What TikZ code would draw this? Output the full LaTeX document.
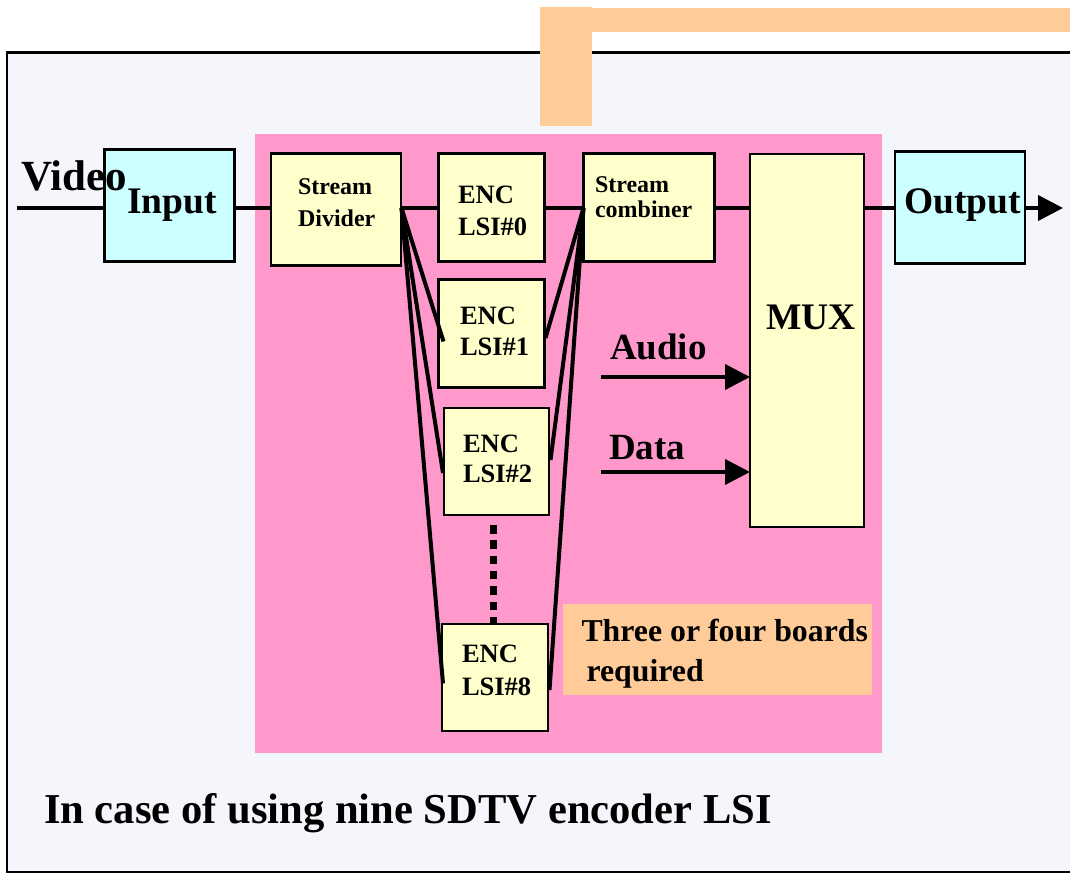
\documentclass[tikz,border=0pt]{standalone}
\usepackage{fontspec}
\setmainfont{Liberation Serif}
\usetikzlibrary{arrows.meta,calc}
\definecolor{framebg}{HTML}{F5F6FB}
\definecolor{pinkbg}{HTML}{FF99CC}
\definecolor{orangebg}{HTML}{FFCC99}
\definecolor{yellowbox}{HTML}{FFFFCC}
\definecolor{cyanbox}{HTML}{CCFFFF}
\newcommand{\twolines}[2]{\vtop{\hbox{#1}\hbox{#2}}}
\begin{document}
\begin{tikzpicture}[x=1pt,y=-1pt,
  blk/.style={draw=black, line width=2.8pt, inner sep=0pt, outer sep=0pt},
  yblk/.style={blk, fill=yellowbox},
  cblk/.style={blk, fill=cyanbox},
  wire/.style={line width=4pt, line cap=butt},
  arr/.style={wire, -{Triangle[length=25pt,width=25pt]}},
  txt/.style={anchor=base west, inner sep=0pt, outer sep=0pt, font=\bfseries},
]
\useasboundingbox (0,0) rectangle (1070,874);
% frame
\path[fill=framebg, draw=black, line width=2.5pt] (7,52.5) rectangle (1090,872);
% orange bars
\fill[orangebg] (540,7) rectangle (592,126);
\fill[orangebg] (540,8) rectangle (1075,32);
% pink board
\fill[pinkbg] (255,134) rectangle (882,752.5);
% note box
\node[fill=orangebg, inner sep=0pt, minimum width=309pt, minimum height=91pt] (note) at (717.25,649) {};

% boxes
\node[cblk, minimum width=130pt, minimum height=112pt] (inp) at (169.5,205.5) {};
\node[yblk, minimum width=130pt, minimum height=112pt] (div) at (336,209.5) {};
\node[yblk, minimum width=106pt, minimum height=108pt] (e0) at (491.5,207.5) {};
\node[yblk, minimum width=131pt, minimum height=108pt] (comb) at (649,207.5) {};
\node[yblk, minimum width=114pt, minimum height=373pt] (mux) at (807,340.5) {};
\node[cblk, minimum width=130pt, minimum height=112pt] (out) at (960,207.5) {};
\node[yblk, minimum width=106pt, minimum height=108pt] (e1) at (491.5,333.5) {};
\node[yblk, minimum width=105pt, minimum height=107pt] (e2) at (496.5,461.5) {};
\node[yblk, minimum width=106pt, minimum height=107pt] (e8) at (495,677.5) {};

% coordinates
\coordinate (vin) at (17,208);
\coordinate (vout) at (1063,208);
\coordinate (au) at (601,377);
\coordinate (da) at (601,472);
\coordinate (dtop) at (493.5,525);
\coordinate (dbot) at (493.5,624);
\coordinate (dsrc) at (401.5,208);
\coordinate (csrc) at (583.5,208);

% connectors
\draw[wire] (vin) -- (vin -| inp.west);
\draw[wire] (inp.east |- vin) -- (div.west |- vin);
\draw[wire] (dsrc) -- (e0.west |- vin);
\draw[wire] (e0.east |- vin) -- (csrc);
\draw[wire] (comb.east |- vin) -- (mux.west |- vin);
\draw[wire] (mux.east |- vin) -- (out.west |- vin);
\draw[arr] (out.east |- vin) -- (vout);
\draw[wire] (dsrc) -- ([xshift=5pt,yshift=-8pt]e1.west);
\draw[wire] (dsrc) -- ([xshift=-1pt,yshift=-11.5pt]e2.west);
\draw[wire] (dsrc) -- ([xshift=1pt,yshift=-6pt]e8.west);
\draw[wire] (csrc) -- ([xshift=1pt,yshift=-4.5pt]e1.east);
\draw[wire] (csrc) -- ([xshift=1.5pt,yshift=1.5pt]e2.east);
\draw[wire] (csrc) -- ([xshift=1.5pt,yshift=-12.5pt]e8.east);
\draw[line width=7pt, dash pattern=on 8.5pt off 6.8pt] (dtop) -- (dbot);
\draw[arr] (au) -- (au -| mux.west);
\draw[arr] (da) -- (da -| mux.west);

% texts
\node[txt, font=\bfseries\fontsize{43}{50}\selectfont] (tvideo) at (21,191) {Video};
\node[txt, font=\bfseries\fontsize{37.5}{44}\selectfont] (tinput) at (127,214) {Input};
\node[txt, font=\bfseries\fontsize{24}{31.7}\selectfont] (tdiv) at (298,195) {\twolines{Stream}{Divider}};
\node[txt, font=\bfseries\fontsize{26.5}{32}\selectfont] (te0) at (458,204) {\twolines{ENC}{LSI\#0}};
\node[txt, font=\bfseries\fontsize{26.5}{32}\selectfont] (te1) at (460,324) {\twolines{ENC}{LSI\#1}};
\node[txt, font=\bfseries\fontsize{26.5}{30.5}\selectfont] (te2) at (463,452) {\twolines{ENC}{LSI\#2}};
\node[txt, font=\bfseries\fontsize{26.5}{33}\selectfont] (te8) at (462,662) {\twolines{ENC}{LSI\#8}};
\node[txt, font=\bfseries\fontsize{24}{25}\selectfont] (tcomb) at (595,193) {\twolines{Stream}{combiner}};
\node[txt, font=\bfseries\fontsize{37.5}{44}\selectfont] (tmux) at (766,330) {MUX};
\node[txt, font=\bfseries\fontsize{37}{44}\selectfont] (taud) at (610,359) {Audio};
\node[txt, font=\bfseries\fontsize{37}{44}\selectfont] (tdata) at (609,459) {Data};
\node[txt, font=\bfseries\fontsize{37.5}{44}\selectfont] (tout) at (904,214) {Output};
\node[txt, font=\bfseries\fontsize{31.8}{40}\selectfont] (tnote) at (581.5,641) {\twolines{Three or four boards}{\hspace*{5pt}required}};
\node[txt, font=\bfseries\fontsize{42.6}{50}\selectfont] (tcap) at (44,823) {In case of using nine SDTV encoder LSI};
\end{tikzpicture}
\end{document}
